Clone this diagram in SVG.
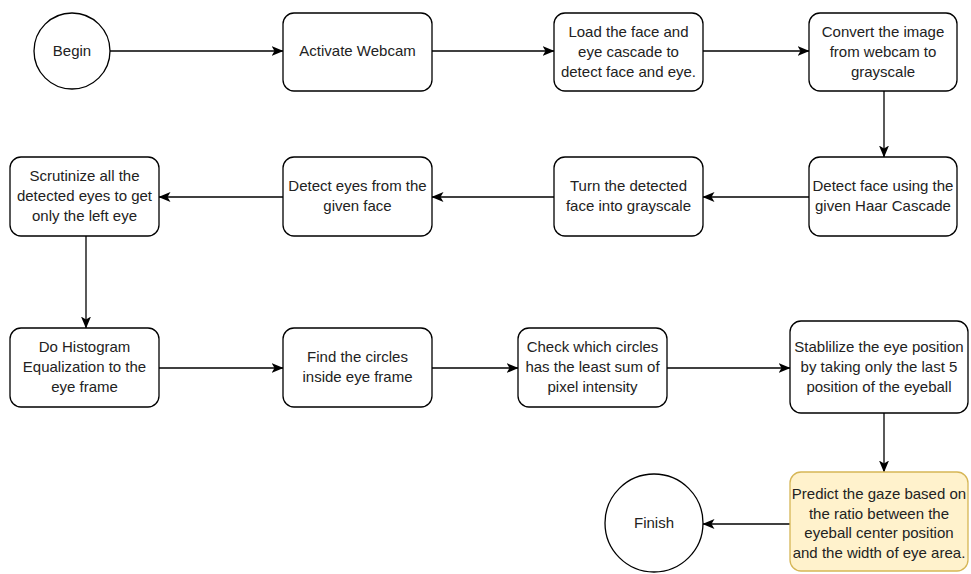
<svg xmlns="http://www.w3.org/2000/svg" width="971" height="574" viewBox="0 0 971 574">
  <defs>
    <marker id="arrow" viewBox="0 0 12 10" refX="11.5" refY="5" markerWidth="12" markerHeight="10" markerUnits="userSpaceOnUse" orient="auto">
      <path d="M0,0 L12,5 L0,10 L3,5 Z" fill="#000"/>
    </marker>
  </defs>
  <style>
    .box { fill: #ffffff; stroke: #000000; stroke-width: 1.3; }
    .note { fill: #fff2cc; stroke: #d6b656; stroke-width: 1.3; }
    .edge { fill: none; stroke: #000000; stroke-width: 1.3; marker-end: url(#arrow); }
    text { font-family: "Liberation Sans", Arial, sans-serif; font-size: 15px; fill: #222222; text-anchor: middle; }
  </style>
  <rect width="971" height="574" fill="#ffffff"/>

  <!-- connectors -->
  <g id="edges">
    <line class="edge" x1="110" y1="51" x2="283" y2="51"/>
    <line class="edge" x1="432" y1="51" x2="554" y2="51"/>
    <line class="edge" x1="703" y1="51" x2="809" y2="51"/>
    <line class="edge" x1="884" y1="91" x2="884" y2="157"/>
    <line class="edge" x1="809" y1="197" x2="703" y2="197"/>
    <line class="edge" x1="554" y1="197" x2="432" y2="197"/>
    <line class="edge" x1="283" y1="197" x2="159" y2="197"/>
    <line class="edge" x1="86" y1="236" x2="86" y2="328"/>
    <line class="edge" x1="159" y1="368" x2="283" y2="368"/>
    <line class="edge" x1="432" y1="368" x2="518" y2="368"/>
    <line class="edge" x1="667" y1="368" x2="790" y2="368"/>
    <line class="edge" x1="884" y1="413" x2="884" y2="472"/>
    <line class="edge" x1="790" y1="524" x2="703" y2="524"/>
  </g>

  <g id="begin">
    <circle class="box" cx="72" cy="51" r="38"/>
    <text x="72" y="56">Begin</text>
  </g>

  <g id="activate-webcam">
    <rect class="box" x="283" y="13" width="149" height="78" rx="11"/>
    <text x="357.5" y="56">Activate Webcam</text>
  </g>

  <g id="load-cascade">
    <rect class="box" x="554" y="13" width="149" height="78" rx="11"/>
    <text x="628.5" y="37">Load the face and</text>
    <text x="628.5" y="57">eye cascade to</text>
    <text x="628.5" y="77">detect face and eye.</text>
  </g>

  <g id="convert-grayscale">
    <rect class="box" x="809" y="13" width="148" height="78" rx="11"/>
    <text x="883" y="37">Convert the image</text>
    <text x="883" y="57">from webcam to</text>
    <text x="883" y="77">grayscale</text>
  </g>

  <g id="detect-face">
    <rect class="box" x="809" y="157" width="148" height="79" rx="11"/>
    <text x="883" y="191">Detect face using the</text>
    <text x="883" y="211">given Haar Cascade</text>
  </g>

  <g id="turn-grayscale">
    <rect class="box" x="554" y="157" width="149" height="79" rx="11"/>
    <text x="628.5" y="191">Turn the detected</text>
    <text x="628.5" y="211">face into grayscale</text>
  </g>

  <g id="detect-eyes">
    <rect class="box" x="283" y="157" width="149" height="79" rx="11"/>
    <text x="357.5" y="191">Detect eyes from the</text>
    <text x="357.5" y="211">given face</text>
  </g>

  <g id="scrutinize-eyes">
    <rect class="box" x="10" y="157" width="149" height="79" rx="11"/>
    <text x="84.5" y="181">Scrutinize all the</text>
    <text x="84.5" y="201">detected eyes to get</text>
    <text x="84.5" y="221">only the left eye</text>
  </g>

  <g id="histogram-equalization">
    <rect class="box" x="10" y="328" width="149" height="79" rx="11"/>
    <text x="84.5" y="352">Do Histogram</text>
    <text x="84.5" y="372">Equalization to the</text>
    <text x="84.5" y="392">eye frame</text>
  </g>

  <g id="find-circles">
    <rect class="box" x="283" y="328" width="149" height="79" rx="11"/>
    <text x="357.5" y="362">Find the circles</text>
    <text x="357.5" y="382">inside eye frame</text>
  </g>

  <g id="check-circles">
    <rect class="box" x="518" y="328" width="149" height="79" rx="11"/>
    <text x="592.5" y="352">Check which circles</text>
    <text x="592.5" y="372">has the least sum of</text>
    <text x="592.5" y="392">pixel intensity</text>
  </g>

  <g id="stabilize-position">
    <rect class="box" x="790" y="321" width="178" height="92" rx="11"/>
    <text x="879" y="352">Stablilize the eye position</text>
    <text x="879" y="372">by taking only the last 5</text>
    <text x="879" y="392">position of the eyeball</text>
  </g>

  <g id="predict-gaze">
    <rect class="note" x="790" y="472" width="178" height="99" rx="11"/>
    <text x="879" y="499">Predict the gaze based on</text>
    <text x="879" y="518.5">the ratio between the</text>
    <text x="879" y="538">eyeball center position</text>
    <text x="879" y="557.5">and the width of eye area.</text>
  </g>

  <g id="finish">
    <circle class="box" cx="654" cy="523" r="49"/>
    <text x="654" y="528">Finish</text>
  </g>
</svg>
